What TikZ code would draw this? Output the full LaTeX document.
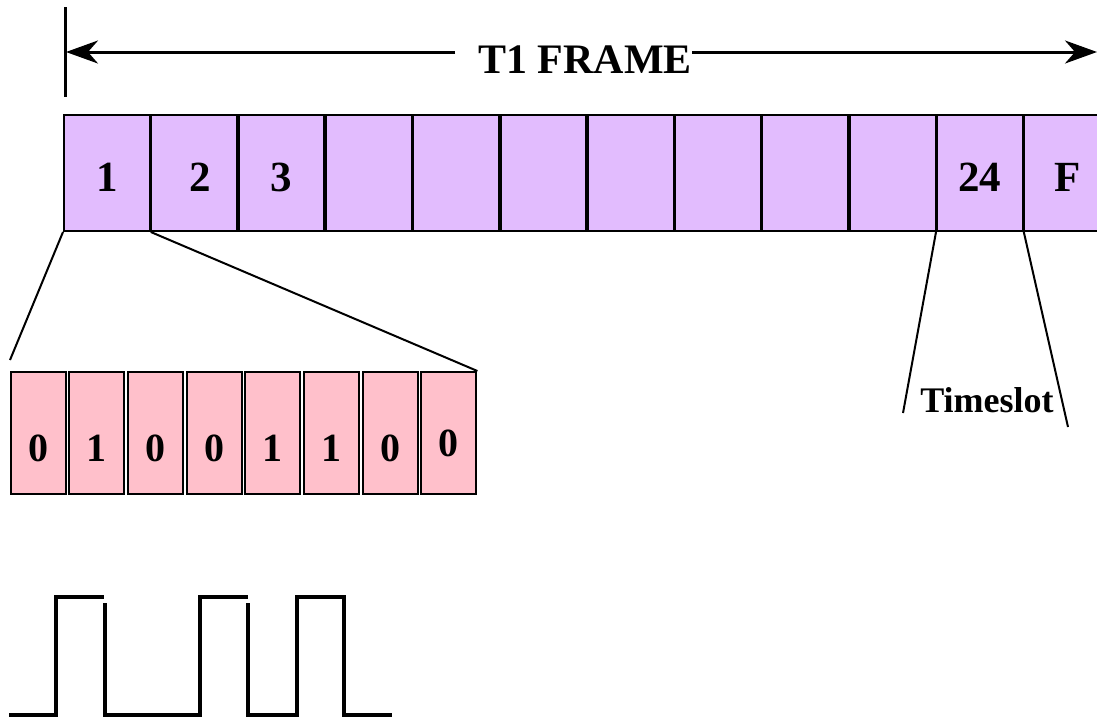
\documentclass[tikz,border=0pt]{standalone}
\usepackage{fontspec}
\setmainfont{Liberation Serif}
\usepackage{tikz}
\usetikzlibrary{arrows.meta}
\definecolor{slotfill}{RGB}{226,188,254}
\definecolor{bitfill}{RGB}{255,192,203}
\tikzstyle{slot} = [rectangle, minimum width=42.9pt, minimum height=58pt, inner sep=0pt, fill=slotfill, draw=black, line width=1pt, text height=18.5pt, text depth=0pt, font=\bfseries\fontsize{21.5}{21.5}\selectfont]
\tikzstyle{bit} = [rectangle, minimum width=27.5pt, minimum height=61pt, inner sep=0pt, fill=bitfill, draw=black, line width=1pt, text height=28.5pt, text depth=0pt, font=\bfseries\fontsize{20}{20}\selectfont]
\tikzstyle{arrow} = [line width=1.5pt, -{Stealth[length=16pt, width=11.5pt, inset=5pt]}]
\tikzstyle{link} = [line width=1pt]
\tikzstyle{wave} = [line width=1.8pt]

\begin{document}
\begin{tikzpicture}[x=0.5pt, y=-0.5pt]
        \useasboundingbox (0,0) rectangle (1097,719);
        % T1 frame with its timeslots
        \node (s1) [slot] at (106.9,173) {1};
        \begin{scope}[node distance=43.65pt]
        \node (s2) [slot, right of = s1] {\hspace*{6.5pt}2};
        \node (s3) [slot, right of = s2] {3};
        \node (s4) [slot, right of = s3] {};
        \node (s5) [slot, right of = s4] {};
        \node (s6) [slot, right of = s5] {};
        \node (s7) [slot, right of = s6] {};
        \node (s8) [slot, right of = s7] {};
        \node (s9) [slot, right of = s8] {};
        \node (s10) [slot, right of = s9] {};
        \node (s11) [slot, right of = s10] {24};
        \node (s12) [slot, right of = s11] {F};
        \end{scope}
        % frame length
        \node (frame) [anchor=base, font=\bfseries\fontsize{21}{21}\selectfont] at (585,73) {T1 FRAME};
        \coordinate (tickt) at (65,7);
        \coordinate (tickb) at (65,97);
        \coordinate (lend) at (455,52);
        \coordinate (ltip) at (66,52);
        \coordinate (rend) at (692,52);
        \coordinate (rtip) at (1097,52);
        \draw [line width=1.5pt] (tickt) -- (tickb);
        \draw [arrow] (lend) -- (ltip);
        \draw [arrow] (rend) -- (rtip);
        % bits of timeslot 1
        \node (b1) [bit] at (38,433) {0};
        \begin{scope}[node distance=29.35pt]
        \node (b2) [bit, right of = b1] {1};
        \node (b3) [bit, right of = b2] {0};
        \node (b4) [bit, right of = b3] {0};
        \node (b5) [bit, right of = b4] {1};
        \node (b6) [bit, right of = b5] {1};
        \node (b7) [bit, right of = b6] {0};
        \node (b8) [bit, right of = b7, text height=23.5pt] {0};
        \end{scope}
        \coordinate (zl) at (10,360);
        \draw [link] (s1.south west) -- (zl);
        \draw [link] (s1.south east) -- (b8.north east);
        % timeslot marker
        \node (tslot) [anchor=base, font=\bfseries\fontsize{18}{18}\selectfont] at (987,412) {Timeslot};
        \coordinate (tl) at (903,413);
        \coordinate (tr) at (1068,427);
        \draw [link] (s11.south west) -- (tl);
        \draw [link] (s11.south east) -- (tr);
        % line signal
        \draw [wave] (9,715) -- (56,715) -- (56,597) -- (104,597);
        \draw [wave] (105,603) -- (105,715) -- (200,715) -- (200,597) -- (248,597);
        \draw [wave] (248,603) -- (248,715) -- (297,715) -- (297,597) -- (344,597) -- (344,715) -- (392,715);
\end{tikzpicture}
\end{document}
